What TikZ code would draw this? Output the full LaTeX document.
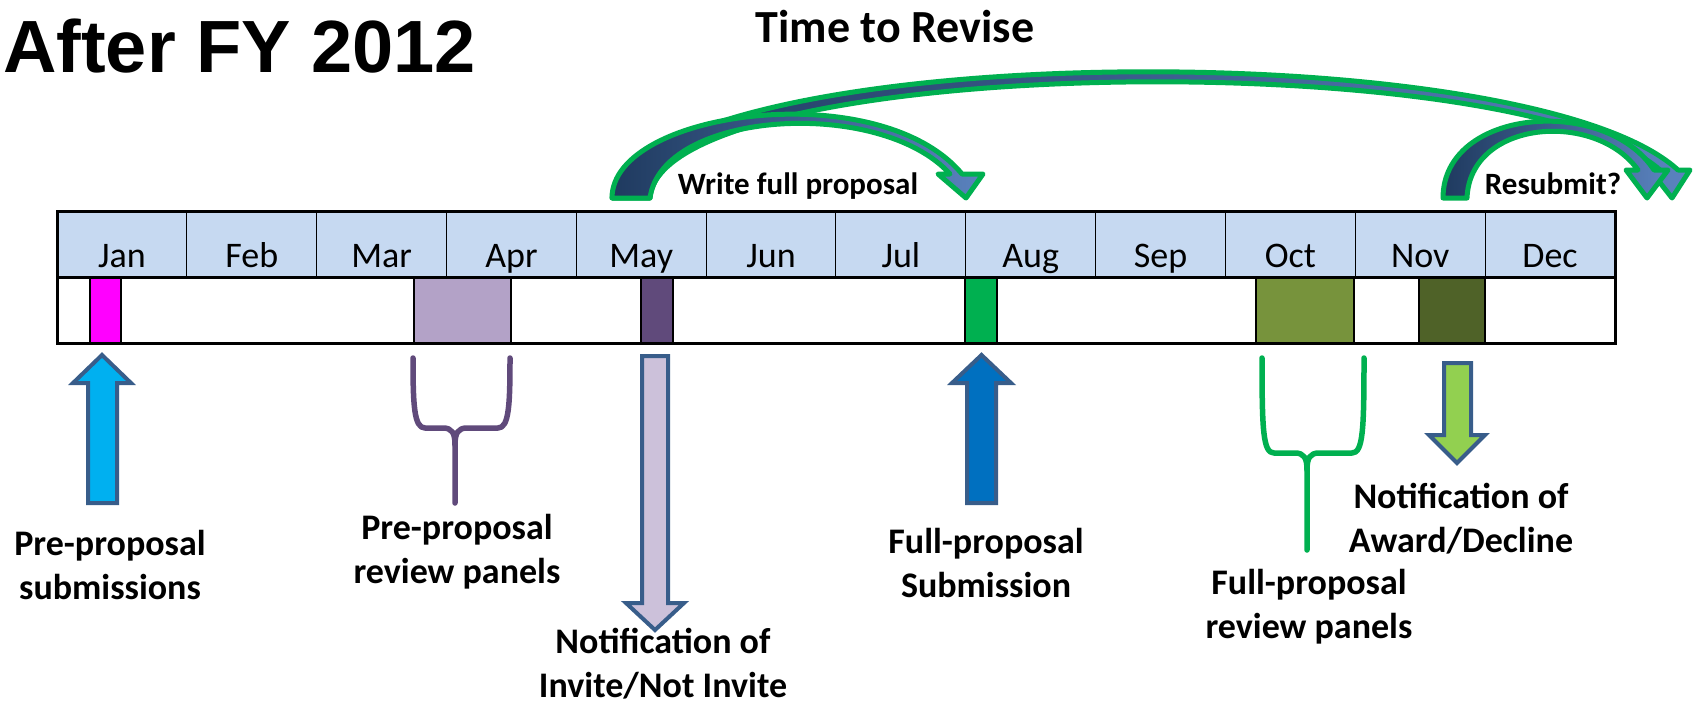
\documentclass[tikz,border=0pt]{standalone}
\usepackage{fontspec}
\setmainfont{Carlito}
\newfontfamily\headfont{Liberation Sans}

\definecolor{headfill}{HTML}{C6D9F1}
\definecolor{janpink}{HTML}{FF00FF}
\definecolor{prepanel}{HTML}{B3A2C7}
\definecolor{invitebar}{HTML}{604A7B}
\definecolor{augbar}{HTML}{00B050}
\definecolor{octbar}{HTML}{77933C}
\definecolor{novbar}{HTML}{4F6228}
\definecolor{cyanarrow}{HTML}{00B0F0}
\definecolor{bluearrow}{HTML}{0070C0}
\definecolor{lilacarrow}{HTML}{CCC1DA}
\definecolor{limearrow}{HTML}{92D050}
\definecolor{arrowedge}{HTML}{385D8A}
\definecolor{bracepurple}{HTML}{604A7B}
\definecolor{bracegreen}{HTML}{00B050}
\definecolor{bendgreen}{HTML}{00B050}
\definecolor{benddark}{HTML}{1F3A5F}
\definecolor{bendlight}{HTML}{5A82BE}

\tikzset{
  month/.style={anchor=base, inner sep=0, font=\fontsize{36}{40}\selectfont},
  lbl/.style={anchor=base, align=center, inner sep=0, font=\fontsize{36}{44}\selectfont\bfseries},
  bar/.style={draw=black, line width=2pt},
  blockarrow/.style={draw=arrowedge, line width=4pt, line join=miter},
  brace/.style={line width=5.5pt, line cap=round, line join=round},
  bendband/.style={draw=bendgreen, line width=5pt, line join=round, left color=benddark, right color=bendlight},
}

\begin{document}
\begin{tikzpicture}[x=1pt,y=-1pt]
\useasboundingbox (0,0) rectangle (1694,704);

\node[anchor=base west, inner sep=0, font={\headfont\bfseries\fontsize{74}{80}\selectfont}] (title) at (3,72) {After FY 2012};
\node[anchor=base, inner sep=0, font=\bfseries\fontsize{46}{50}\selectfont] (revise) at (895,42) {Time to Revise};

% curved arrows over the calendar
\filldraw[bendband] (612,198) .. controls (650,40) and (1525,30) .. (1678,170) -- (1690,170) -- (1672,198) -- (1650,170) -- (1660,170) .. controls (1515,42) and (660,55) .. (650,198) -- cycle;
\filldraw[bendband] (612,198) .. controls (612,110) and (880,75) .. (962,174) -- (983,174) -- (966,198) -- (938,174) -- (950,174) .. controls (880,97) and (662,110) .. (650,198) -- cycle;
\filldraw[bendband] (1443,198) .. controls (1443,108) and (1605,95) .. (1654,170) -- (1668,170) -- (1647,198) -- (1626,170) -- (1638,170) .. controls (1595,110) and (1470,120) .. (1467,198) -- cycle;
\node[anchor=base, inner sep=0, font=\bfseries\fontsize{31}{34}\selectfont] (write) at (798,194) {Write full proposal};
\node[anchor=base, inner sep=0, font=\bfseries\fontsize{31}{34}\selectfont] (resub) at (1553,194) {Resubmit?};

% calendar
\fill[headfill] (57,211) rectangle (1615,277);
\foreach \m [count=\i] in {Jan,Feb,Mar,Apr,May,Jun,Jul,Aug,Sep,Oct,Nov,Dec} {
  \node[month] (m\i) at ({57+129.83*(\i-0.5)},267) {\m};
  \draw[line width=1pt] ({57+129.83*\i},211) -- ({57+129.83*\i},277);
}
\draw[bar, fill=janpink] (90,277) rectangle (121,343);
\draw[bar, fill=prepanel] (414,277) rectangle (511,343);
\draw[bar, fill=invitebar] (641,277) rectangle (673,343);
\draw[bar, fill=augbar] (965,277) rectangle (997,343);
\draw[bar, fill=octbar] (1256,277) rectangle (1354,343);
\draw[bar, fill=novbar] (1419,277) rectangle (1485,343);
\draw[line width=3pt] (57,211) rectangle (1615,343);
\draw[line width=3pt] (57,277) -- (1615,277);

% block arrows
\draw[blockarrow, fill=cyanarrow] (88,503) -- (88,383) -- (73,383) -- (102,355) -- (131,383) -- (117,383) -- (117,503) -- cycle;
\draw[blockarrow, fill=bluearrow] (967,503) -- (967,383) -- (952,383) -- (981.5,355) -- (1011,383) -- (996,383) -- (996,503) -- cycle;
\draw[blockarrow, fill=lilacarrow] (642,356) -- (642,603) -- (626,603) -- (655,630) -- (684,603) -- (668,603) -- (668,356) -- cycle;
\draw[blockarrow, fill=limearrow] (1444,363) -- (1444,435) -- (1429,435) -- (1457,463) -- (1485,435) -- (1471,435) -- (1471,363) -- cycle;

% braces
\draw[brace, draw=bracepurple] (413,358) .. controls (413,405) and (414,428) .. (425,428) -- (443,428) .. controls (452,428) and (455,433) .. (455,445) -- (455,503);
\draw[brace, draw=bracepurple] (510,358) .. controls (510,405) and (509,428) .. (498,428) -- (467,428) .. controls (458,428) and (455,433) .. (455,445);
\draw[brace, draw=bracegreen] (1262,358) .. controls (1262,430) and (1263,453) .. (1274,453) -- (1295,453) .. controls (1304,453) and (1307,458) .. (1307,470) -- (1307,550);
\draw[brace, draw=bracegreen] (1364,358) .. controls (1364,430) and (1363,453) .. (1352,453) -- (1319,453) .. controls (1310,453) and (1307,458) .. (1307,470);

% labels
\node[lbl] (presub) at (110,599) {Pre-proposal\\submissions};
\node[lbl] (prerev) at (457,583) {Pre-proposal\\review panels};
\node[lbl] (invite) at (663,697) {Notification of\\Invite/Not Invite};
\node[lbl] (fullsub) at (986,597) {Full-proposal\\Submission};
\node[lbl] (fullrev) at (1309,638) {Full-proposal\\review panels};
\node[lbl] (award) at (1461,552) {Notification of\\Award/Decline};
\end{tikzpicture}
\end{document}
